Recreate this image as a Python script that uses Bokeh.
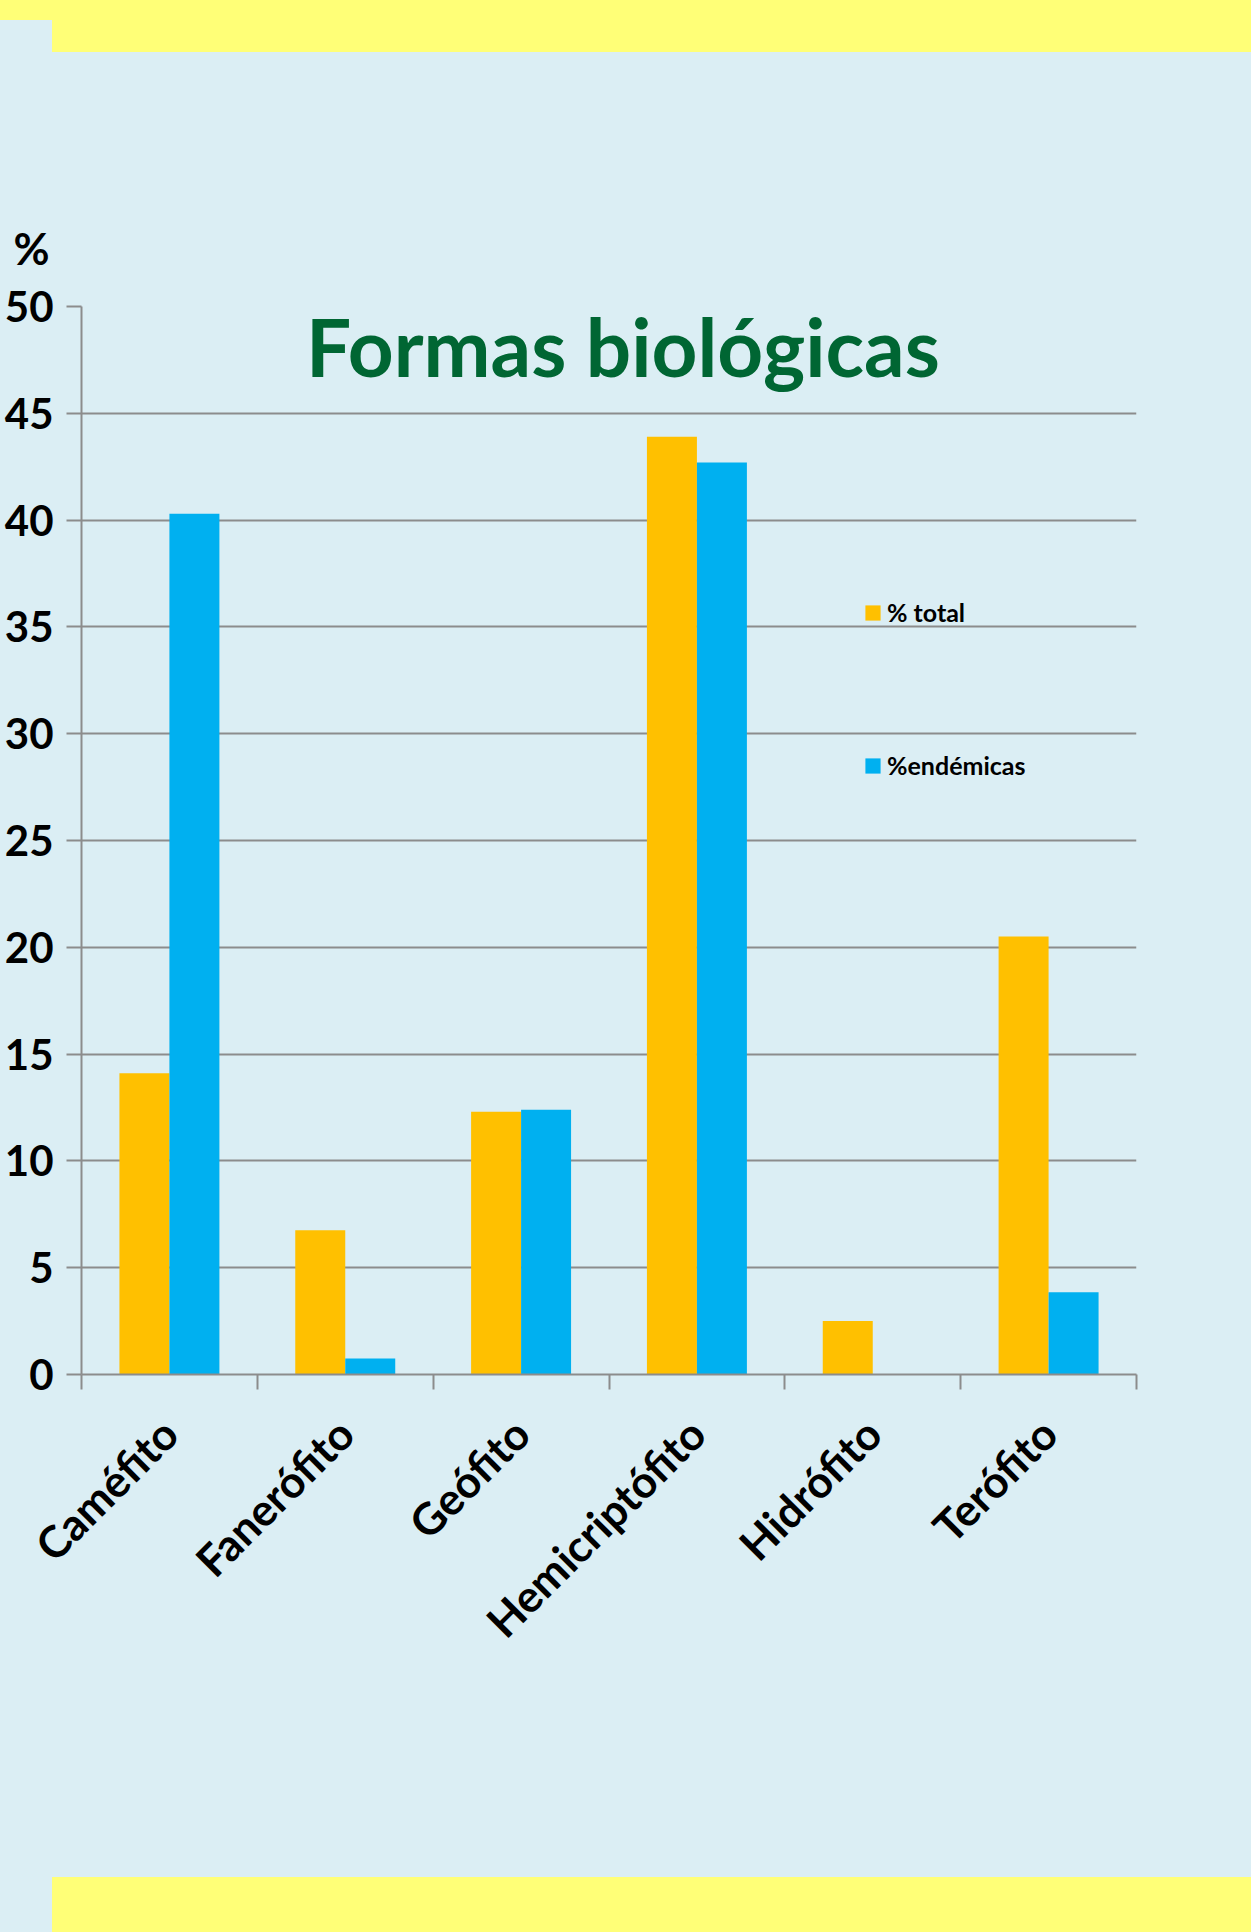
import math
import numpy as np
from bokeh.plotting import figure
from bokeh.models import (Range1d, FixedTicker, Label, Legend, LegendItem)
from bokeh.embed import file_html
from bokeh.resources import INLINE

# ---- data ----
categories = ["Caméfito", "Fanerófito", "Geófito", "Hemicriptófito", "Hidrófito", "Terófito"]
pct_total = [14.1, 6.75, 12.3, 43.9, 2.5, 20.5]
pct_endemicas = [40.3, 0.75, 12.4, 42.7, 0.0, 3.85]
series_names = ["% total", "%endémicas"]
y_ticks = [0, 5, 10, 15, 20, 25, 30, 35, 40, 45, 50]
title_text = "Formas biológicas"
y_unit = "%"

# ---- style ----
BG = "#DBEEF4"
YELLOW = "#FFFF77"
ORANGE = "#FFC000"
BLUE = "#00B0F0"
GRID = "#8C8C8C"
GREEN = "#006633"
FONT = "Lato"

W, H = 1251, 1932
FRAME_W, FRAME_H = 1055, 1068
B_LEFT, B_TOP = 81, 306
B_RIGHT = W - B_LEFT - FRAME_W
B_BOTTOM = H - B_TOP - FRAME_H

n = len(categories)
idx = np.arange(n)
bar_w = 0.2843

p = figure(frame_width=FRAME_W, frame_height=FRAME_H,
           min_border_left=B_LEFT, min_border_right=B_RIGHT,
           min_border_top=B_TOP, min_border_bottom=B_BOTTOM,
           x_range=Range1d(0, n), y_range=Range1d(0, 50),
           output_backend="svg", toolbar_location=None)
p.background_fill_color = BG
p.border_fill_color = BG
p.border_fill_alpha = 0
p.outline_line_color = None
band = "linear-gradient(%s, %s)" % (YELLOW, YELLOW)
p.styles = {"background": (
    f"{band} 0px 0px / {W}px 20px no-repeat, "
    f"{band} 52px 0px / {W - 52}px 52px no-repeat, "
    f"{band} 52px {H - 55}px / {W - 52}px 55px no-repeat, "
    f"{BG}")}

r1 = p.vbar(x=idx + 0.5 - bar_w / 2, width=bar_w, top=pct_total, bottom=0,
            fill_color=ORANGE, line_color=None)
r2 = p.vbar(x=idx + 0.5 + bar_w / 2, width=bar_w, top=pct_endemicas, bottom=0,
            fill_color=BLUE, line_color=None)

# y axis & grid
yt = FixedTicker(ticks=y_ticks)
p.yaxis.ticker = yt
p.ygrid.ticker = yt
p.ygrid.grid_line_color = GRID
p.ygrid.grid_line_width = 2
p.xgrid.grid_line_color = None
p.yaxis.axis_line_color = GRID
p.yaxis.axis_line_width = 2
p.yaxis.major_tick_line_color = GRID
p.yaxis.major_tick_line_width = 2
p.yaxis.major_tick_out = 15
p.yaxis.major_tick_in = 0
p.yaxis.minor_tick_line_color = None
p.yaxis.major_label_standoff = 13
p.yaxis.major_label_text_font = FONT
p.yaxis.major_label_text_font_style = "bold"
p.yaxis.major_label_text_font_size = "42px"
p.yaxis.major_label_text_color = "black"

# x axis: labels at category centres, ticks at category boundaries
centers = [float(i) + 0.5 for i in range(n)]
p.xaxis.ticker = FixedTicker(ticks=centers, minor_ticks=[float(i) for i in range(n + 1)])
p.xaxis.major_label_overrides = {c: name for c, name in zip(centers, categories)}
p.xaxis.major_label_orientation = math.pi / 4
p.xaxis.axis_line_color = GRID
p.xaxis.axis_line_width = 2
p.xaxis.major_tick_line_color = None
p.xaxis.major_tick_out = 0
p.xaxis.major_tick_in = 0
p.xaxis.minor_tick_line_color = GRID
p.xaxis.minor_tick_line_width = 2
p.xaxis.minor_tick_out = 15
p.xaxis.minor_tick_in = 0
p.xaxis.major_label_standoff = 36
p.xaxis.major_label_text_font = FONT
p.xaxis.major_label_text_font_style = "bold"
p.xaxis.major_label_text_font_size = "44px"
p.xaxis.major_label_text_color = "black"

# unit label "%" above the y axis (figure title slot)
p.title.text = y_unit
p.title.align = "left"
p.title.offset = -68
p.title.standoff = 65
p.title.text_font = FONT
p.title.text_font_style = "bold"
p.title.text_font_size = "44px"
p.title.text_color = "black"

# chart title inside the plot area
p.add_layout(Label(x=(937 + 308) / 2 - B_LEFT, y=1029, x_units="screen", y_units="screen",
                   text=title_text, text_align="center", text_baseline="alphabetic",
                   text_font=FONT, text_font_style="bold", text_font_size="80px",
                   text_color=GREEN))

# legend
legend = Legend(items=[LegendItem(label=series_names[0], renderers=[r1]),
                       LegendItem(label=series_names[1], renderers=[r2])],
                location=(782, 594), orientation="vertical",
                glyph_width=19, glyph_height=19, label_height=29,
                label_standoff=5, spacing=123, padding=0, margin=0,
                border_line_color=None, background_fill_alpha=0,
                label_text_font=FONT, label_text_font_style="bold",
                label_text_font_size="25px", label_text_color="black")
p.add_layout(legend)

open("out.html", "w").write(file_html(p, INLINE))
